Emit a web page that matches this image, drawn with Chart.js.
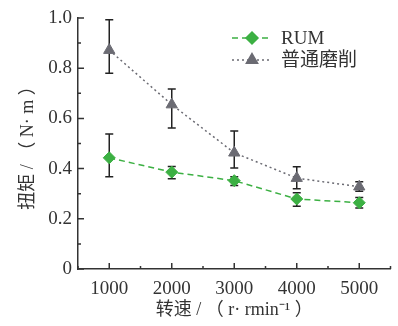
<!DOCTYPE html>
<html>
<head>
<meta charset="utf-8">
<script src="https://cdn.jsdelivr.net/npm/chart.js@4/dist/chart.umd.min.js"></script>
<style>
  html, body { margin: 0; padding: 0; background: #fff; }
  #wrap { width: 398px; height: 326px; }
</style>
</head>
<body>
<div id="wrap"><canvas id="torqueChart"></canvas></div>
<script>
// data
const speeds = [1000, 2000, 3000, 4000, 5000];
const xTicks = [1000, 2000, 3000, 4000, 5000];
const yTicks = [0, 0.2, 0.4, 0.6, 0.8, 1.0];
const yTickLabels = ["0", "0.2", "0.4", "0.6", "0.8", "1.0"];

const rumTorque = [0.443, 0.386, 0.352, 0.279, 0.264];
const rumUpper  = [0.538, 0.408, 0.368, 0.304, 0.285];
const rumLower  = [0.368, 0.360, 0.333, 0.250, 0.243];

const normalTorque = [0.872, 0.655, 0.463, 0.362, 0.328];
const normalUpper  = [0.993, 0.717, 0.550, 0.407, 0.348];
const normalLower  = [0.780, 0.562, 0.402, 0.320, 0.310];

const seriesLabels = ["RUM", "普通磨削"];

const serif = "'Liberation Serif', 'Noto Sans CJK SC', serif";
const axisColor = "#333";

// error bars + inward ticks + legend
const extras = {
    id: "extras",
    beforeDatasetsDraw(chart) {
        const ctx = chart.ctx;
        const xs = chart.scales.x, ys = chart.scales.y;
        const bars = [[rumUpper, rumLower], [normalUpper, normalLower]];
        ctx.save();
        ctx.strokeStyle = "#222";
        ctx.lineWidth = 1.5;
        bars.forEach(([up, low]) => {
            speeds.forEach((s, i) => {
                const x = xs.getPixelForValue(s);
                const y1 = ys.getPixelForValue(up[i]);
                const y2 = ys.getPixelForValue(low[i]);
                ctx.beginPath();
                ctx.moveTo(x, y1); ctx.lineTo(x, y2);
                ctx.moveTo(x - 4, y1); ctx.lineTo(x + 4, y1);
                ctx.moveTo(x - 4, y2); ctx.lineTo(x + 4, y2);
                ctx.stroke();
            });
        });
        ctx.restore();
    },
    afterDraw(chart) {
        const ctx = chart.ctx;
        const xs = chart.scales.x, ys = chart.scales.y;
        const a = chart.chartArea;
        ctx.save();
        ctx.strokeStyle = axisColor;
        ctx.lineWidth = 1.5;
        ctx.beginPath();
        // y ticks (inward)
        for (let v = 0; v <= 1.0001; v += 0.1) {
            const y = ys.getPixelForValue(v);
            const major = Math.round(v * 10) % 2 === 0;
            ctx.moveTo(a.left, y); ctx.lineTo(a.left + (major ? 6 : 3), y);
        }
        // x ticks (inward)
        for (let v = 500; v <= 5500; v += 500) {
            const x = xs.getPixelForValue(v);
            const major = v % 1000 === 0;
            ctx.moveTo(x, a.bottom); ctx.lineTo(x, a.bottom - (major ? 6 : 3));
        }
        ctx.stroke();

        // legend
        const rows = [
            { y: 38, ds: chart.data.datasets[0] },
            { y: 60, ds: chart.data.datasets[1] }
        ];
        rows.forEach(r => {
            const ds = r.ds;
            ctx.strokeStyle = ds.borderColor;
            ctx.lineWidth = ds.borderWidth;
            ctx.setLineDash(ds.borderDash);
            ctx.beginPath();
            ctx.moveTo(232, r.y); ctx.lineTo(271, r.y);
            ctx.stroke();
            ctx.setLineDash([]);
            ctx.fillStyle = ds.pointBackgroundColor;
            ctx.strokeStyle = ds.pointBackgroundColor;
            Chart.helpers.drawPoint(ctx, {
                pointStyle: ds.pointStyle, radius: ds.pointRadius, rotation: 0, borderWidth: 1
            }, 252, r.y);
            ctx.fillStyle = "#333";
            ctx.font = "19px " + serif;
            ctx.textBaseline = "middle";
            ctx.textAlign = "left";
            ctx.fillText(ds.label, 281, r.y + 1);
        });
        ctx.restore();
    }
};

new Chart(document.getElementById("torqueChart"), {
    type: "line",
    data: {
        datasets: [{
            label: seriesLabels[0],
            data: speeds.map((s, i) => ({ x: s, y: rumTorque[i] })),
            borderColor: "#3cb043",
            borderWidth: 1.5,
            borderDash: [6, 4],
            pointStyle: "rectRot",
            pointRadius: 6,
            pointBackgroundColor: "#3cb043",
            pointBorderColor: "#3cb043",
            pointBorderWidth: 1
        }, {
            label: seriesLabels[1],
            data: speeds.map((s, i) => ({ x: s, y: normalTorque[i] })),
            borderColor: "#6b6b73",
            borderWidth: 1.5,
            borderDash: [2, 3],
            pointStyle: "triangle",
            pointRadius: 6.5,
            pointBackgroundColor: "#6b6b73",
            pointBorderColor: "#6b6b73",
            pointBorderWidth: 1
        }]
    },
    options: {
        responsive: true,
        maintainAspectRatio: false,
        animation: false,
        layout: { padding: { left: 0, right: 5, top: 18, bottom: 0 } },
        plugins: {
            legend: { display: false },
            tooltip: { enabled: false }
        },
        scales: {
            x: {
                type: "linear",
                min: 500,
                max: 5500,
                afterBuildTicks: s => { s.ticks = xTicks.map(v => ({ value: v })); },
                afterFit: s => { s.height = 57; },
                grid: { display: false, drawTicks: false },
                border: { display: true, color: axisColor, width: 1.5 },
                ticks: {
                    color: "#333",
                    padding: 9,
                    maxRotation: 0,
                    font: { family: serif, size: 19 },
                    callback: v => String(v)
                },
                title: {
                    display: true,
                    text: "转速 / （ r· rmin⁻¹ ）",
                    color: "#333",
                    padding: { top: 0, bottom: 5 },
                    font: { family: serif, size: 18 }
                }
            },
            y: {
                min: 0,
                max: 1.0,
                afterBuildTicks: s => { s.ticks = yTicks.map(v => ({ value: v })); },
                afterFit: s => { s.width = 78; },
                grid: { display: false, drawTicks: false },
                border: { display: true, color: axisColor, width: 1.5 },
                ticks: {
                    color: "#333",
                    padding: 6,
                    font: { family: serif, size: 19 },
                    callback: (v) => yTickLabels[yTicks.findIndex(t => Math.abs(t - v) < 1e-6)]
                },
                title: {
                    display: true,
                    text: "扭矩 / （ N· m ）",
                    color: "#333",
                    padding: { top: 17, bottom: 0 },
                    font: { family: serif, size: 18 }
                }
            }
        }
    },
    plugins: [extras]
});
</script>
</body>
</html>
